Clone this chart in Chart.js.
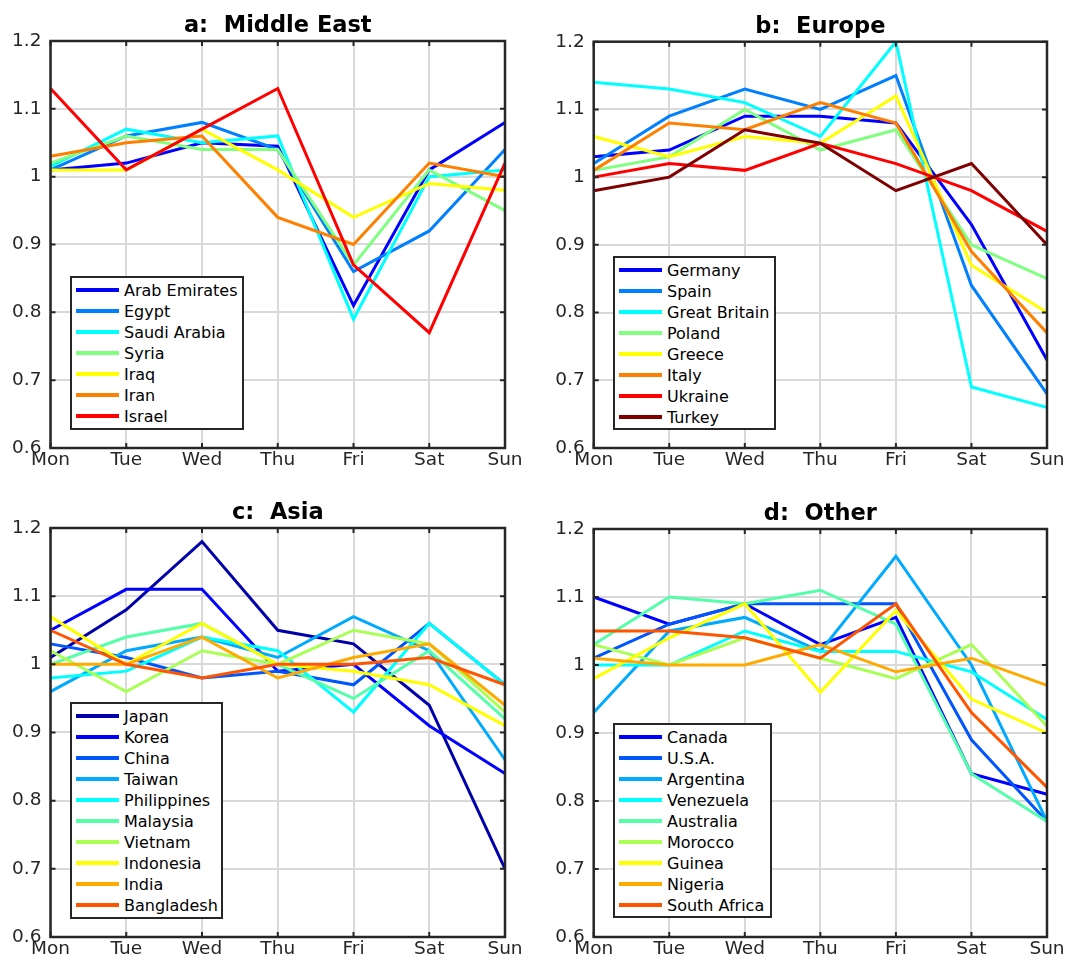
<!DOCTYPE html>
<html>
<head>
<meta charset="utf-8">
<script src="https://cdn.jsdelivr.net/npm/chart.js@4.4.0/dist/chart.umd.min.js"></script>
<style>
  body { margin: 0; background: #fff; overflow: hidden; width: 1067px; height: 963px; position: relative; font-family: "DejaVu Sans", sans-serif; }
  canvas { position: absolute; }
  .legend { position: absolute; box-sizing: border-box; border: 2px solid #262626; background: #fff; padding-top: 1.5px; font-size: 16px; color: #000; }
  .legend div { display: flex; align-items: center; height: 21px; white-space: nowrap; }
  .legend .sw { display: inline-block; width: 43px; height: 4px; margin-left: 4px; margin-right: 5px; }
</style>
</head>
<body>
<canvas id="chart-a" width="533" height="485" style="left:0;top:0"></canvas>
<canvas id="chart-b" width="527" height="485" style="left:540px;top:0"></canvas>
<canvas id="chart-c" width="533" height="476" style="left:0;top:487px"></canvas>
<canvas id="chart-d" width="527" height="476" style="left:540px;top:487px"></canvas>
<div id="legend-a" class="legend" style="left:70px;top:276px;width:174px;height:154px"></div>
<div id="legend-b" class="legend" style="left:613px;top:256px;width:163px;height:174px"></div>
<div id="legend-c" class="legend" style="left:70px;top:702px;width:153px;height:217px"></div>
<div id="legend-d" class="legend" style="left:613px;top:723px;width:159px;height:195px"></div>
<script>
// axes
const days = ["Mon", "Tue", "Wed", "Thu", "Fri", "Sat", "Sun"];
const yTicks = [0.6, 0.7, 0.8, 0.9, 1.0, 1.1, 1.2];
const yTickLabels = ["0.6", "0.7", "0.8", "0.9", "1", "1.1", "1.2"];

// a: Middle East
const meNames = ["Arab Emirates", "Egypt", "Saudi Arabia", "Syria", "Iraq", "Iran", "Israel"];
const meValues = [
  [1.01, 1.02, 1.05, 1.045, 0.81, 1.01, 1.08],
  [1.01, 1.06, 1.08, 1.04, 0.86, 0.92, 1.04],
  [1.015, 1.07, 1.05, 1.06, 0.79, 1.0, 1.01],
  [1.02, 1.06, 1.04, 1.04, 0.87, 1.01, 0.95],
  [1.01, 1.01, 1.07, 1.01, 0.94, 0.99, 0.98],
  [1.03, 1.05, 1.06, 0.94, 0.90, 1.02, 1.0],
  [1.13, 1.01, 1.07, 1.13, 0.87, 0.77, 1.02],
];

// b: Europe
const euNames = ["Germany", "Spain", "Great Britain", "Poland", "Greece", "Italy", "Ukraine", "Turkey"];
const euValues = [
  [1.03, 1.04, 1.09, 1.09, 1.08, 0.93, 0.73],
  [1.02, 1.09, 1.13, 1.10, 1.15, 0.84, 0.68],
  [1.14, 1.13, 1.11, 1.06, 1.20, 0.69, 0.66],
  [1.01, 1.03, 1.10, 1.04, 1.07, 0.90, 0.85],
  [1.06, 1.03, 1.06, 1.05, 1.12, 0.87, 0.80],
  [1.01, 1.08, 1.07, 1.11, 1.08, 0.89, 0.77],
  [1.00, 1.02, 1.01, 1.05, 1.02, 0.98, 0.92],
  [0.98, 1.00, 1.07, 1.05, 0.98, 1.02, 0.90],
];

// c: Asia
const asNames = ["Japan", "Korea", "China", "Taiwan", "Philippines", "Malaysia", "Vietnam", "Indonesia", "India", "Bangladesh"];
const asValues = [
  [1.01, 1.08, 1.18, 1.05, 1.03, 0.94, 0.70],
  [1.05, 1.11, 1.11, 0.99, 1.00, 0.91, 0.84],
  [1.03, 1.01, 0.98, 0.99, 0.97, 1.06, 0.97],
  [0.96, 1.02, 1.04, 1.01, 1.07, 1.02, 0.86],
  [0.98, 0.99, 1.04, 1.02, 0.93, 1.06, 0.97],
  [1.00, 1.04, 1.06, 1.00, 0.95, 1.02, 0.92],
  [1.02, 0.96, 1.02, 1.00, 1.05, 1.03, 0.93],
  [1.07, 1.00, 1.06, 1.00, 0.99, 0.97, 0.91],
  [1.00, 1.00, 1.04, 0.98, 1.01, 1.03, 0.94],
  [1.05, 1.00, 0.98, 1.00, 1.00, 1.01, 0.97],
];

// d: Other
const otNames = ["Canada", "U.S.A.", "Argentina", "Venezuela", "Australia", "Morocco", "Guinea", "Nigeria", "South Africa"];
const otValues = [
  [1.10, 1.06, 1.09, 1.03, 1.07, 0.84, 0.81],
  [1.01, 1.06, 1.09, 1.09, 1.09, 0.89, 0.77],
  [0.93, 1.05, 1.07, 1.02, 1.16, 1.00, 0.77],
  [1.00, 1.00, 1.05, 1.02, 1.02, 0.99, 0.92],
  [1.03, 1.10, 1.09, 1.11, 1.06, 0.84, 0.77],
  [1.03, 1.00, 1.04, 1.01, 0.98, 1.03, 0.91],
  [0.98, 1.04, 1.09, 0.96, 1.08, 0.95, 0.90],
  [1.01, 1.00, 1.00, 1.03, 0.99, 1.01, 0.97],
  [1.05, 1.05, 1.04, 1.01, 1.09, 0.93, 0.82],
];

// jet colour maps
const jet8 = ["#0000ff", "#0080ff", "#00ffff", "#80ff80", "#ffff00", "#ff8000", "#ff0000", "#800000"];
const jet9 = ["#0000ff", "#0055ff", "#00aaff", "#00ffff", "#55ffaa", "#aaff55", "#ffff00", "#ffaa00", "#ff5500"];
const jet10 = ["#0000aa", "#0000ff", "#0055ff", "#00aaff", "#00ffff", "#55ffaa", "#aaff55", "#ffff00", "#ffaa00", "#ff5500"];

const FONT = "DejaVu Sans";
const AXIS = "#262626";

// box, inward ticks and title, like matlab axes
const frame = {
  id: "frame",
  afterDatasetsDraw(chart, args, opts) {
    const { ctx, chartArea: a, scales } = chart;
    ctx.save();
    ctx.strokeStyle = AXIS;
    ctx.lineWidth = 2;
    ctx.beginPath();
    scales.x.ticks.forEach((t, i) => {
      const x = scales.x.getPixelForTick(i);
      ctx.moveTo(x, a.bottom);
      ctx.lineTo(x, a.bottom - 5);
      ctx.moveTo(x, a.top);
      ctx.lineTo(x, a.top + 5);
    });
    scales.y.ticks.forEach((t, i) => {
      const y = scales.y.getPixelForTick(i);
      ctx.moveTo(a.left, y);
      ctx.lineTo(a.left + 5, y);
      ctx.moveTo(a.right, y);
      ctx.lineTo(a.right - 5, y);
    });
    ctx.stroke();
    ctx.lineWidth = 2.5;
    ctx.strokeRect(a.left, a.top, a.right - a.left, a.bottom - a.top);
    ctx.fillStyle = "#000";
    ctx.font = 'bold 22.5px "' + FONT + '"';
    ctx.textAlign = "center";
    ctx.textBaseline = "alphabetic";
    ctx.fillText(opts.title, (a.left + a.right) / 2, a.top - 9);
    ctx.restore();
  },
};

function makePanel(id, title, names, values, colors, g) {
  const datasets = names.map((n, i) => ({
    label: n,
    data: values[i],
    borderColor: colors[i],
    backgroundColor: colors[i],
    borderWidth: 3,
    pointRadius: 0,
    tension: 0,
    fill: false,
    order: -i,
  }));
  const tickFont = { family: FONT, size: 18.5 };
  return new Chart(document.getElementById(id), {
    type: "line",
    data: { labels: days, datasets: datasets },
    plugins: [frame],
    options: {
      responsive: false,
      animation: false,
      devicePixelRatio: 1,
      layout: { padding: { left: 0, right: g.right, top: g.top, bottom: 0 } },
      scales: {
        x: {
          offset: false,
          grid: { color: "#d9d9d9", lineWidth: 2, drawTicks: false },
          border: { display: false },
          ticks: { padding: 1, color: AXIS, font: tickFont, maxRotation: 0, autoSkip: false },
          afterFit: (s) => {
            s.height = g.xh;
            s.paddingLeft = 0;
            s.paddingRight = 0;
          },
        },
        y: {
          min: 0.6,
          max: 1.2,
          afterBuildTicks: (s) => {
            s.ticks = yTicks.map((v) => ({ value: v }));
          },
          afterFit: (s) => {
            s.width = g.yw;
            s.paddingTop = 0;
            s.paddingBottom = 0;
          },
          grid: { color: "#d9d9d9", lineWidth: 2, drawTicks: false },
          border: { display: false },
          ticks: { padding: 9, color: AXIS, font: tickFont, callback: (v, i) => yTickLabels[i] },
        },
      },
      plugins: {
        legend: { display: false },
        tooltip: { enabled: false },
        frame: { title: title },
      },
    },
  });
}

function makeLegend(id, names, colors) {
  const box = document.getElementById(id);
  names.forEach((n, i) => {
    const row = document.createElement("div");
    const sw = document.createElement("span");
    sw.className = "sw";
    sw.style.background = colors[i];
    row.appendChild(sw);
    row.appendChild(document.createTextNode(n));
    box.appendChild(row);
  });
}

makePanel("chart-a", "a:  Middle East", meNames, meValues, jet8, { yw: 50.5, xh: 37, top: 41, right: 28 });
makePanel("chart-b", "b:  Europe", euNames, euValues, jet8, { yw: 53.7, xh: 37, top: 41.7, right: 20 });
makePanel("chart-c", "c:  Asia", asNames, asValues, jet10, { yw: 50.5, xh: 26, top: 41, right: 28 });
makePanel("chart-d", "d:  Other", otNames, otValues, jet9, { yw: 53.7, xh: 26, top: 42, right: 20 });

makeLegend("legend-a", meNames, jet8);
makeLegend("legend-b", euNames, jet8);
makeLegend("legend-c", asNames, jet10);
makeLegend("legend-d", otNames, jet9);
</script>
</body>
</html>
